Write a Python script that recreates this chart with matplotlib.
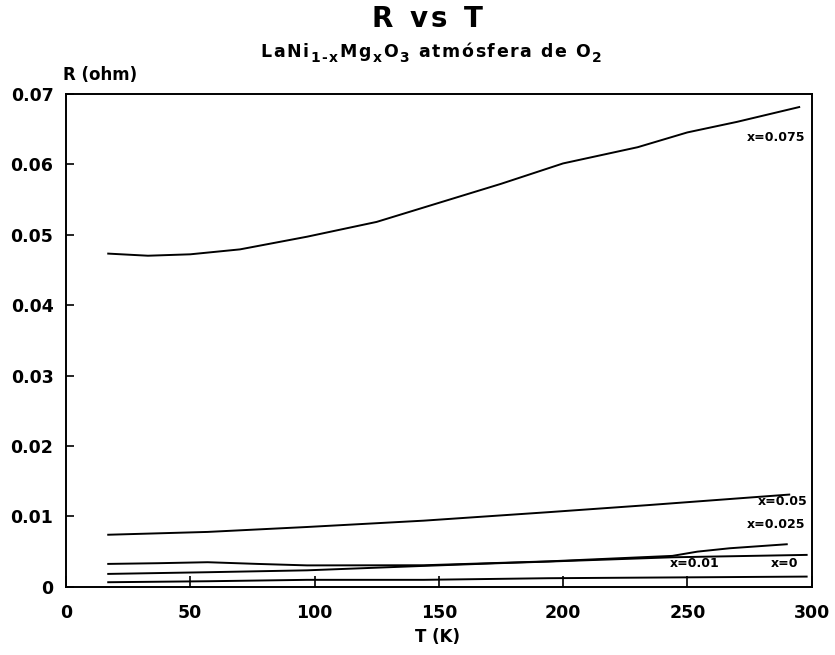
import matplotlib
matplotlib.use("Agg")
import matplotlib.pyplot as plt

plt.rcParams["font.family"] = ["DejaVu Sans"]

# Resistance vs temperature for LaNi(1-x)Mg(x)O3 samples
T_075 = [17, 33, 50, 70, 97, 125, 150, 175, 200, 230, 250, 270, 295]
R_075 = [0.0473, 0.0470, 0.0472, 0.0479, 0.0497, 0.0518, 0.0545, 0.0572,
         0.0601, 0.0624, 0.0645, 0.0660, 0.0681]

T_05 = [17, 57, 97, 144, 194, 234, 291]
R_05 = [0.0074, 0.0078, 0.0085, 0.0094, 0.0106, 0.0116, 0.0131]

T_025 = [17, 37, 57, 77, 97, 144, 194, 244, 254, 267, 290]
R_025 = [0.00326, 0.00336, 0.0035, 0.00326, 0.00305, 0.00307, 0.00362,
         0.0044, 0.0050, 0.00548, 0.00605]

T_01 = [17, 57, 97, 144, 174, 194, 244, 298]
R_01 = [0.00184, 0.00208, 0.00235, 0.00298, 0.00336, 0.00359, 0.0042, 0.00454]

T_0 = [17, 57, 97, 144, 194, 298]
R_0 = [0.00066, 0.0008, 0.0010, 0.0010, 0.00123, 0.00146]

series = [
    (T_075, R_075, "x=0.075", 285.6, 0.0638),
    (T_05, R_05, "x=0.05", 288.5, 0.0121),
    (T_025, R_025, "x=0.025", 285.6, 0.0088),
    (T_01, R_01, "x=0.01", 253.0, 0.00326),
    (T_0, R_0, "x=0", 289.3, 0.00326),
]

x_ticks = [0, 50, 100, 150, 200, 250, 300]
y_ticks = [0, 0.01, 0.02, 0.03, 0.04, 0.05, 0.06, 0.07]
y_ticklabels = ["0", "0.01", "0.02", "0.03", "0.04", "0.05", "0.06", "0.07"]

title_parts = [("R vs T", False)]
# subtitle pieces: (text, is_subscript)
subtitle_parts = [("LaNi", False), ("1\u2010x", True), ("Mg", False),
                  ("x", True), ("O", False), ("3", True),
                  (" atmósfera de O", False), ("2", True)]

W, H = 835, 655
fig = plt.figure(figsize=(W / 100, H / 100), dpi=100)
ax = fig.add_axes([0.079, 0.104, 0.893, 0.753])

for T, R, label, lx, ly in series:
    ax.plot(T, R, color="black", lw=1.4)
    ax.text(lx, ly, label, ha="center", va="center", fontsize=9,
            fontweight="bold")

ax.set_xlim(0, 300)
ax.set_ylim(0, 0.07)
ax.set_xticks(x_ticks)
ax.set_xticklabels([str(t) for t in x_ticks])
ax.set_yticks(y_ticks)
ax.set_yticklabels(y_ticklabels)
ax.tick_params(axis="both", direction="in", labelsize=12.5, width=1.2)
ax.tick_params(axis="x", length=8, pad=12)
ax.tick_params(axis="y", length=6, pad=9)
for lbl in ax.get_xticklabels() + ax.get_yticklabels():
    lbl.set_fontweight("bold")
for sp in ax.spines.values():
    sp.set_linewidth(1.4)

renderer = fig.canvas.get_renderer()


def spaced_text(parts, center_px, base_px, sub_drop_px, size, sub_size,
                tracking_px):
    """Lay out text character by character with extra letter spacing."""
    placed = []
    x = 0.0
    for txt, is_sub in parts:
        y = 1 - (base_px + (sub_drop_px if is_sub else 0)) / H
        for ch in txt:
            t = fig.text(0, y, ch, ha="left", va="baseline",
                         fontsize=sub_size if is_sub else size,
                         fontweight="bold")
            w = t.get_window_extent(renderer).width
            placed.append((t, x))
            x += w + tracking_px
    total = x - tracking_px
    start = center_px - total / 2
    for t, x0 in placed:
        t.set_x((start + x0) / W)


spaced_text(title_parts, 427, 27, 0, 20, 20, 3.5)
spaced_text(subtitle_parts, 431, 57, 5, 12.5, 10, 1.6)

fig.text(0.076, 0.886, "R (ohm)", ha="left", va="center", fontsize=12,
         fontweight="bold")
fig.text(0.5245, 0.0275, "T (K)", ha="center", va="center", fontsize=12,
         fontweight="bold")

fig.savefig("out.png", dpi=100)
